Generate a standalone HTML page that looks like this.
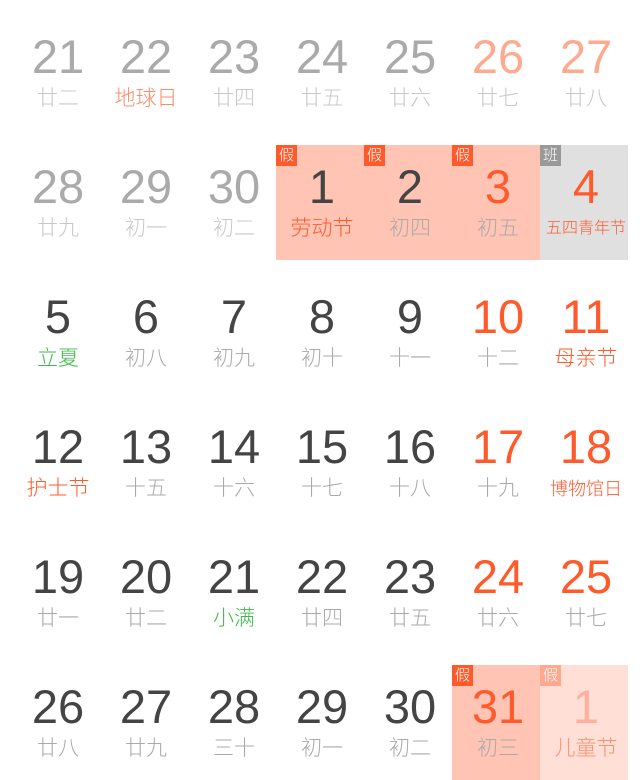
<!DOCTYPE html>
<html><head><meta charset="utf-8">
<style>
body{margin:0;width:640px;height:780px;background:#fff;position:relative;overflow:hidden;font-family:"Liberation Sans","Noto Sans CJK SC",sans-serif;}
.cell{position:absolute;width:88px;height:115px;}
.num{position:absolute;left:2px;width:88px;top:17px;text-align:center;font-size:47px;line-height:50px;}
.lun{position:absolute;left:2px;width:88px;top:71px;text-align:center;font-size:21px;line-height:26px;font-weight:300;}
.badge{position:absolute;left:0;top:0;width:21px;height:21px;color:#fff;font-size:15px;line-height:21px;text-align:center;font-weight:300;}
</style></head><body>
<script>
// [day, lunar, numColor, lunarColor, bg, badge, badgeColor, lunarSize]
var P='#aaa',PL='#c8c8c8',D='#444',L='#aaa',R='#ff5a2b',G='#3cb94a';
var days=[
[21,'廿二',P,PL],[22,'地球日',P,'#ff8a68'],[23,'廿四',P,PL],[24,'廿五',P,PL],[25,'廿六',P,PL],[26,'廿七','#ffa98f',PL],[27,'廿八','#ffa98f',PL],
[28,'廿九',P,PL],[29,'初一',P,PL],[30,'初二',P,PL],[1,'劳动节',D,R,'#ffc4b4','假',R],[2,'初四',D,L,'#ffc4b4','假',R],[3,'初五',R,L,'#ffc4b4','假',R],[4,'五四青年节',R,R,'#e0e0e0','班','#999',16],
[5,'立夏',D,G],[6,'初八',D,L],[7,'初九',D,L],[8,'初十',D,L],[9,'十一',D,L],[10,'十二',R,L],[11,'母亲节',R,R],
[12,'护士节',D,R],[13,'十五',D,L],[14,'十六',D,L],[15,'十七',D,L],[16,'十八',D,L],[17,'十九',R,L],[18,'博物馆日',R,R,null,null,null,18],
[19,'廿一',D,L],[20,'廿二',D,L],[21,'小满',D,G],[22,'廿四',D,L],[23,'廿五',D,L],[24,'廿六',R,L],[25,'廿七',R,L],
[26,'廿八',D,L],[27,'廿九',D,L],[28,'三十',D,L],[29,'初一',D,L],[30,'初二',D,L],[31,'初三',R,L,'#ffc4b4','假',R],[1,'儿童节','#ffb09c','#ff8f70','#ffdfd6','假','#ffa88f']
];
days.forEach(function(d,i){
  var c=document.createElement('div');c.className='cell';
  c.style.left=(12+88*(i%7))+'px';c.style.top=(15+130*Math.floor(i/7))+'px';
  if(d[4])c.style.background=d[4];
  
  
  var n=document.createElement('div');n.className='num';n.textContent=d[0];n.style.color=d[2];
  
  
  var l=document.createElement('div');l.className='lun';l.textContent=d[1];l.style.color=d[3];
  if(d[7])l.style.fontSize=d[7]+'px';
  
  
  c.appendChild(n);c.appendChild(l);
  if(d[5]){var b=document.createElement('div');b.className='badge';b.textContent=d[5];b.style.background=d[6];
    
    
    c.appendChild(b);}
  document.body.appendChild(c);
});
</script>
</body></html>
